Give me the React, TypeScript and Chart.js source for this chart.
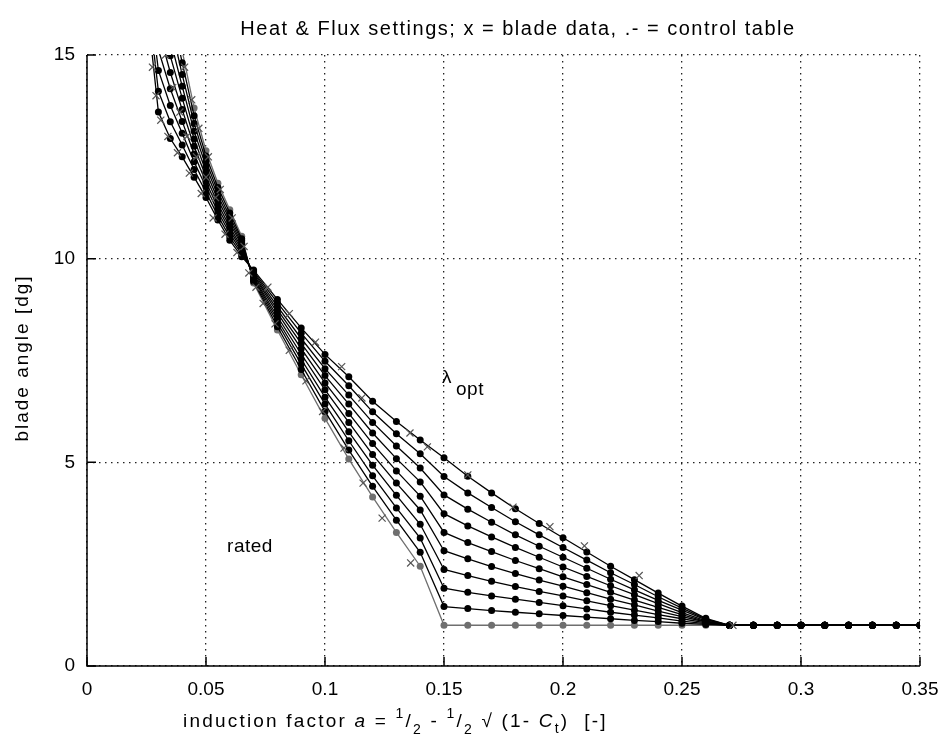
import React, { useEffect, useRef } from "react";
import { Chart, registerables } from "chart.js";

Chart.register(...registerables);

// ---------- data ----------
const xGrid = [
  0.025, 0.03, 0.035, 0.04, 0.045, 0.05, 0.055, 0.06, 0.065, 0.07,
  0.08, 0.09, 0.1, 0.11, 0.12, 0.13, 0.14, 0.15, 0.16, 0.17, 0.18, 0.19,
  0.2, 0.21, 0.22, 0.23, 0.24, 0.25, 0.26, 0.27, 0.28, 0.29, 0.3, 0.31,
  0.32, 0.33, 0.34, 0.35,
];

const curve0 = [16.3, 13.6, 12.95, 12.5, 12.0, 11.5, 10.95, 10.45, 10.05, 9.72, 9.0, 8.3, 7.65, 7.1, 6.5, 6.0, 5.55, 5.11, 4.66, 4.25, 3.86, 3.5, 3.15, 2.8, 2.45, 2.12, 1.79, 1.47, 1.17, 1, 1, 1, 1, 1, 1, 1, 1, 1];
const curve1 = [16.66, 14.11, 13.36, 12.79, 12.19, 11.63, 11.05, 10.53, 10.11, 9.68, 8.92, 8.17, 7.48, 6.88, 6.24, 5.7, 5.21, 4.65, 4.25, 3.89, 3.54, 3.22, 2.91, 2.6, 2.29, 2.0, 1.7, 1.42, 1.15, 1, 1, 1, 1, 1, 1, 1, 1, 1];
const curve2 = [17.01, 14.62, 13.76, 13.08, 12.38, 11.76, 11.15, 10.62, 10.16, 9.65, 8.83, 8.04, 7.3, 6.65, 5.98, 5.4, 4.86, 4.2, 3.85, 3.53, 3.22, 2.94, 2.67, 2.4, 2.13, 1.87, 1.61, 1.37, 1.13, 1, 1, 1, 1, 1, 1, 1, 1, 1];
const curve3 = [17.37, 15.13, 14.17, 13.37, 12.57, 11.88, 11.25, 10.7, 10.22, 9.61, 8.75, 7.92, 7.13, 6.43, 5.72, 5.09, 4.52, 3.74, 3.44, 3.17, 2.91, 2.67, 2.43, 2.2, 1.97, 1.75, 1.53, 1.31, 1.11, 1, 1, 1, 1, 1, 1, 1, 1, 1];
const curve4 = [17.72, 15.64, 14.57, 13.66, 12.76, 12.01, 11.35, 10.78, 10.27, 9.58, 8.67, 7.79, 6.95, 6.2, 5.46, 4.79, 4.17, 3.28, 3.03, 2.81, 2.59, 2.39, 2.19, 2.0, 1.81, 1.62, 1.44, 1.26, 1.09, 1, 1, 1, 1, 1, 1, 1, 1, 1];
const curve5 = [18.08, 16.16, 14.98, 13.94, 12.94, 12.14, 11.45, 10.87, 10.33, 9.54, 8.58, 7.66, 6.78, 5.98, 5.19, 4.49, 3.83, 2.83, 2.63, 2.44, 2.27, 2.11, 1.96, 1.8, 1.64, 1.5, 1.35, 1.21, 1.08, 1, 1, 1, 1, 1, 1, 1, 1, 1];
const curve6 = [18.43, 16.67, 15.38, 14.23, 13.13, 12.27, 11.55, 10.95, 10.38, 9.51, 8.5, 7.53, 6.6, 5.75, 4.93, 4.19, 3.48, 2.37, 2.22, 2.08, 1.95, 1.83, 1.72, 1.6, 1.48, 1.37, 1.26, 1.16, 1.06, 1, 1, 1, 1, 1, 1, 1, 1, 1];
const curve7 = [18.79, 17.18, 15.79, 14.52, 13.32, 12.39, 11.65, 11.03, 10.44, 9.47, 8.42, 7.41, 6.43, 5.53, 4.67, 3.88, 3.14, 1.91, 1.81, 1.72, 1.64, 1.56, 1.48, 1.4, 1.32, 1.25, 1.18, 1.1, 1.04, 1, 1, 1, 1, 1, 1, 1, 1, 1];
const curve8 = [19.14, 17.69, 16.19, 14.81, 13.51, 12.52, 11.75, 11.12, 10.49, 9.44, 8.33, 7.28, 6.25, 5.3, 4.41, 3.58, 2.79, 1.46, 1.41, 1.36, 1.32, 1.28, 1.24, 1.2, 1.16, 1.12, 1.09, 1.05, 1.02, 1, 1, 1, 1, 1, 1, 1, 1, 1];
const curve9 = [19.5, 18.2, 16.6, 15.1, 13.7, 12.65, 11.85, 11.2, 10.55, 9.4, 8.25, 7.15, 6.08, 5.08, 4.15, 3.28, 2.45, 1.0, 1, 1, 1, 1, 1, 1, 1, 1, 1, 1, 1, 1, 1, 1, 1, 1, 1, 1, 1, 1];

const bladeX = [
  0.0275, 0.029, 0.031, 0.034, 0.038, 0.043, 0.048, 0.053, 0.058, 0.063,
  0.033, 0.036, 0.039, 0.042, 0.046, 0.05, 0.054,
  0.041, 0.044, 0.047, 0.051, 0.056, 0.061, 0.066,
  0.068, 0.071, 0.074, 0.079, 0.085, 0.092, 0.099, 0.108, 0.116, 0.124, 0.136,
  0.076, 0.085, 0.096, 0.107, 0.1155, 0.1357, 0.143, 0.16, 0.179, 0.1945, 0.209, 0.232, 0.2714,
];
const bladeY = [
  14.7, 14.0, 13.4, 13.0, 12.6, 12.1, 11.6, 11.0, 10.6, 10.15,
  15.0, 14.2, 13.6, 13.0, 12.5, 12.0, 11.5,
  14.7, 13.9, 13.2, 12.5, 11.7, 11.0, 10.3,
  9.65, 9.3, 8.9, 8.4, 7.75, 7.0, 6.25, 5.35, 4.49, 3.63, 2.53,
  9.3, 8.65, 7.95, 7.35, 6.58, 5.72, 5.38, 4.69, 3.9, 3.42, 2.95, 2.22, 1.0,
];

const xTickValues = [0, 0.05, 0.1, 0.15, 0.2, 0.25, 0.3, 0.35];
const xTickLabels = ["0", "0.05", "0.1", "0.15", "0.2", "0.25", "0.3", "0.35"];
const yTickValues = [0, 5, 10, 15];
const yTickLabels = ["0", "5", "10", "15"];

const titleText = "Heat & Flux settings; x = blade data, .- = control table";
const yAxisTitle = "blade angle [dg]";
const ratedText = "rated";

const FONT = '"Liberation Sans", Arial, Helvetica, sans-serif';
const GRAY = "#6f6f6f";

type Piece = { t: string; size: number; italic?: boolean; dy?: number };

const xLabelPieces: Piece[] = [
  { t: "induction factor ", size: 19 },
  { t: "a", size: 19, italic: true },
  { t: " = ", size: 19 },
  { t: "1", size: 14, dy: -9 },
  { t: "/", size: 19 },
  { t: "2", size: 14, dy: 7 },
  { t: " - ", size: 19 },
  { t: "1", size: 14, dy: -9 },
  { t: "/", size: 19 },
  { t: "2", size: 14, dy: 7 },
  { t: " \u221A (1- ", size: 19 },
  { t: "C", size: 19, italic: true },
  { t: "t", size: 14, dy: 6 },
  { t: ")  [-]", size: 19 },
];

const decorPlugin = {
  id: "decor",
  afterDraw(chart: any) {
    const ctx: any = chart.ctx;
    const { left, right, top, bottom } = chart.chartArea;
    const xs = chart.scales.x;
    const ys = chart.scales.y;
    ctx.save();
    ctx.setLineDash([]);
    ctx.strokeStyle = "#000";
    ctx.lineWidth = 1.5;
    ctx.beginPath();
    ctx.moveTo(left, top);
    ctx.lineTo(left, bottom);
    ctx.lineTo(right, bottom);
    ctx.stroke();
    ctx.beginPath();
    for (const v of yTickValues) {
      const py = ys.getPixelForValue(v);
      ctx.moveTo(left, py);
      ctx.lineTo(left + 9, py);
    }
    for (const v of xTickValues) {
      const px = xs.getPixelForValue(v);
      ctx.moveTo(px, bottom);
      ctx.lineTo(px, bottom - 9);
    }
    ctx.stroke();

    ctx.fillStyle = "#000";
    ctx.textBaseline = "alphabetic";
    // title
    ctx.font = `20px ${FONT}`;
    ctx.letterSpacing = "1.5px";
    ctx.textAlign = "center";
    ctx.fillText(titleText, 518, 35);

    // y axis title
    ctx.save();
    ctx.translate(28, 358);
    ctx.rotate(-Math.PI / 2);
    ctx.font = `19px ${FONT}`;
    ctx.letterSpacing = "2px";
    ctx.textAlign = "center";
    ctx.fillText(yAxisTitle, 0, 0);
    ctx.restore();

    // annotations
    ctx.letterSpacing = "0.5px";
    ctx.font = `19px ${FONT}`;
    ctx.textAlign = "center";
    ctx.fillText(ratedText, 250, 552);
    ctx.textAlign = "left";
    ctx.fillText("\u03BB", 442, 383);
    ctx.fillText("opt", 456, 395);

    // x axis label
    const base = 727;
    let cx = 183;
    ctx.letterSpacing = "2.2px";
    for (const p of xLabelPieces) {
      ctx.font = `${p.italic ? "italic " : ""}${p.size}px ${FONT}`;
      ctx.fillText(p.t, cx, base + (p.dy || 0));
      cx += ctx.measureText(p.t).width;
    }
    ctx.restore();
  },
};

export default function App() {
  const ref = useRef<HTMLCanvasElement>(null);
  useEffect(() => {
    document.body.style.margin = "0";
    const canvas = ref.current;
    if (!canvas) return;
    const curves = [curve0, curve1, curve2, curve3, curve4, curve5, curve6, curve7, curve8, curve9];
    const datasets: any[] = curves.map((row, k) => {
      const col = k === 9 ? GRAY : "#000";
      return {
        label: `table ${k + 1}`,
        data: xGrid.map((x, i) => ({ x, y: row[i] })),
        showLine: true,
        borderColor: col,
        backgroundColor: col,
        pointBackgroundColor: col,
        pointBorderWidth: 0,
        pointRadius: 3.5,
        pointStyle: "circle",
        borderWidth: 1.3,
        order: k === 9 ? 50 : 10 - k,
      };
    });
    datasets.push({
      label: "blade data",
      data: bladeX.map((x, i) => ({ x, y: bladeY[i] })),
      showLine: false,
      pointStyle: "crossRot",
      pointRadius: 5,
      pointBorderWidth: 1.2,
      borderColor: "#555",
      backgroundColor: "#555",
      order: 0,
    });

    const chart = new Chart(canvas, {
      type: "scatter",
      data: { datasets },
      options: {
        responsive: false,
        maintainAspectRatio: false,
        animation: false,
        layout: { padding: { left: 0, right: 24, top: 55, bottom: 0 } },
        plugins: {
          legend: { display: false },
          tooltip: { enabled: false },
          title: { display: false },
        },
        scales: {
          x: {
            type: "linear",
            min: 0,
            max: 0.35,
            afterBuildTicks: (s: any) => {
              s.ticks = xTickValues.map((v) => ({ value: v }));
            },
            afterFit: (s: any) => {
              s.height = 80;
              s.paddingLeft = 0;
              s.paddingRight = 0;
            },
            ticks: {
              callback: (_v: any, i: number) => xTickLabels[i],
              font: { size: 19, family: FONT },
              color: "#000",
              padding: 12,
              maxRotation: 0,
              autoSkip: false,
            },
            grid: { color: "#222", lineWidth: 1.3, drawTicks: false },
            border: { display: false, dash: [1.5, 4.5] },
          },
          y: {
            type: "linear",
            min: 0,
            max: 15,
            afterBuildTicks: (s: any) => {
              s.ticks = yTickValues.map((v) => ({ value: v }));
            },
            afterFit: (s: any) => {
              s.width = 87;
              s.paddingTop = 0;
              s.paddingBottom = 0;
            },
            ticks: {
              callback: (_v: any, i: number) => yTickLabels[i],
              font: { size: 19, family: FONT },
              color: "#000",
              padding: 12,
              autoSkip: false,
            },
            grid: { color: "#222", lineWidth: 1.3, drawTicks: false },
            border: { display: false, dash: [1.5, 4.5] },
          },
        },
      },
      plugins: [decorPlugin],
    });
    return () => chart.destroy();
  }, []);

  return (
    <div style={{ position: "fixed", left: 0, top: 0, width: 944, height: 746, background: "#fff" }}>
      <canvas ref={ref} width={944} height={746} style={{ width: 944, height: 746, display: "block" }} />
    </div>
  );
}
